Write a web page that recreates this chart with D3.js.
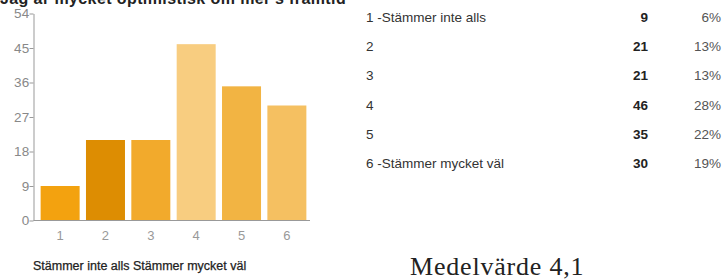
<!DOCTYPE html>
<html>
<head>
<meta charset="utf-8">
<script src="https://cdn.jsdelivr.net/npm/d3@7"></script>
<style>
  body { margin: 0; background: #fff; }
  svg { display: block; }
</style>
</head>
<body>
<svg id="chart" width="722" height="280"></svg>
<script>
// data
var categories = ["1", "2", "3", "4", "5", "6"];
var counts = [9, 21, 21, 46, 35, 30];
var percents = ["6%", "13%", "13%", "28%", "22%", "19%"];
var rowLabels = ["1 -Stämmer inte alls", "2", "3", "4", "5", "6 -Stämmer mycket väl"];
var yTicks = [0, 9, 18, 27, 36, 45, 54];
var barColors = ["#f3a20f", "#dd8d02", "#f2aa2c", "#f8cd80", "#f2b443", "#f5c061"];

var svg = d3.select("#chart");
var font = "'Liberation Sans', Arial, sans-serif";

// titel (beskuren upptill som i originalet)
svg.append("text")
    .attr("x", 0)
    .attr("y", 4)
    .attr("font-family", font)
    .attr("font-size", "16px")
    .attr("font-weight", "bold")
    .attr("letter-spacing", "0.4px")
    .attr("fill", "#222")
    .text("Jag är mycket optimistisk om mer's framtid");

// skalor
var x = d3.scaleBand()
    .domain(categories)
    .range([37, 310])
    .paddingInner(0.14)
    .paddingOuter(0.08);

var y = d3.scaleLinear()
    .domain([0, 54])
    .range([220.5, 13.5]);

// staplar
svg.append("g")
    .selectAll("rect")
    .data(counts)
    .join("rect")
    .attr("x", function (d, i) { return x(categories[i]); })
    .attr("y", function (d) { return y(d); })
    .attr("width", x.bandwidth())
    .attr("height", function (d) { return y(0) - y(d); })
    .attr("fill", function (d, i) { return barColors[i]; });

// y-axel
var yAxis = svg.append("g")
    .attr("transform", "translate(33.5,0)")
    .call(d3.axisLeft(y).tickValues(yTicks).tickSize(4).tickSizeOuter(0));
yAxis.select(".domain").attr("stroke", "#999");
yAxis.selectAll(".tick line").attr("stroke", "#999");
yAxis.selectAll("text")
    .attr("font-family", font)
    .attr("font-size", "13.5px")
    .attr("letter-spacing", "0.3px")
    .attr("fill", "#888")
    .attr("x", -4);

// x-axel
var xAxis = svg.append("g")
    .attr("transform", "translate(0,220.5)")
    .call(d3.axisBottom(x).tickSize(0).tickSizeOuter(0));
xAxis.select(".domain").attr("stroke", "#999").attr("d", "M33.5,0H310");
xAxis.selectAll("text")
    .attr("font-family", font)
    .attr("font-size", "13px")
    .attr("fill", "#999")
    .attr("dy", "1.25em");

// skalförklaring under
svg.append("text")
    .attr("x", 33)
    .attr("y", 270)
    .attr("font-family", font)
    .attr("font-size", "12.5px")
    .attr("fill", "#222")
    .attr("stroke", "#222")
    .attr("stroke-width", 0.25)
    .text("Stämmer inte alls Stämmer mycket väl");

// tabell till höger
var rowY = d3.scalePoint()
    .domain(categories)
    .range([22, 168]);

var rows = svg.append("g")
    .selectAll("g")
    .data(categories)
    .join("g")
    .attr("transform", function (d) { return "translate(0," + rowY(d) + ")"; });

rows.append("text")
    .attr("x", 366)
    .attr("font-family", font)
    .attr("font-size", "13.5px")
    .attr("fill", "#333")
    .text(function (d, i) { return rowLabels[i]; });

rows.append("text")
    .attr("x", 648)
    .attr("text-anchor", "end")
    .attr("font-family", font)
    .attr("font-size", "13.5px")
    .attr("font-weight", "bold")
    .attr("fill", "#222")
    .text(function (d, i) { return counts[i]; });

rows.append("text")
    .attr("x", 721)
    .attr("text-anchor", "end")
    .attr("font-family", font)
    .attr("font-size", "13.5px")
    .attr("fill", "#555")
    .text(function (d, i) { return percents[i]; });

// medelvärde
svg.append("text")
    .attr("x", 410)
    .attr("y", 275)
    .attr("font-family", "'Liberation Serif', 'Times New Roman', serif")
    .attr("font-size", "26px")
    .attr("letter-spacing", "0.8px")
    .attr("fill", "#222")
    .text("Medelvärde 4,1");
</script>
</body>
</html>
